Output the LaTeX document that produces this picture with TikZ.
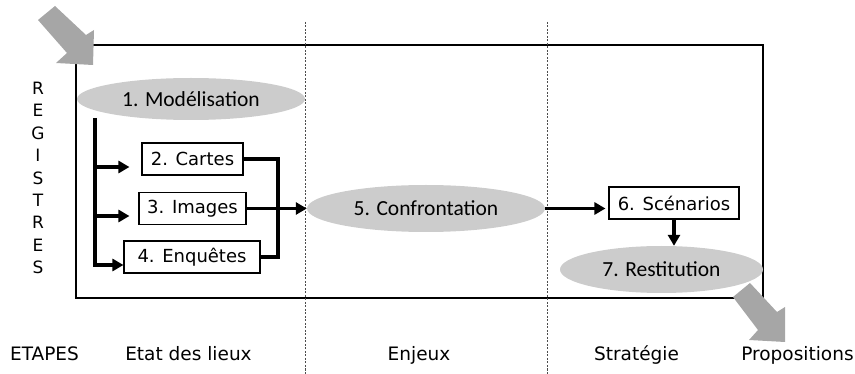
\documentclass[tikz,border=0pt]{standalone}
\usepackage{fontspec}
\setmainfont{Carlito}
\newfontfamily\comicf{DejaVu Sans}
\usetikzlibrary{arrows.meta,shapes.geometric}
\begin{document}
\begin{tikzpicture}[x=1pt,y=-1pt,
  ell/.style={ellipse, fill=gray!40, inner sep=0pt, font=\fontsize{21.5}{24}\selectfont},
  box/.style={draw, line width=1.1pt, rectangle, inner sep=0pt, minimum height=32pt, fill=white, font=\comicf\fontsize{18}{20}\selectfont},
  conn/.style={line width=3.2pt},
  arr/.style={line width=3.2pt, -{Triangle[length=11pt,width=12pt]}},
  sep/.style={dash pattern=on 2pt off 1.5pt, line width=0.7pt, gray!60!black},
  blk/.style={fill=gray!70, draw=none},
  lbl/.style={font=\comicf\fontsize{18.5}{20}\selectfont, anchor=base},
  frame/.style={line width=2.6pt}
]
\useasboundingbox (0,0) rectangle (855,374);
% frame and separators
\draw[frame] (76,45) rectangle (763,298);
\draw[sep] (305,22) -- (305,374);
\draw[sep] (547,22) -- (547,374);
% big grey arrows
\fill[blk] (38,20) -- (55,6) -- (86,35) -- (94,30) -- (93,65) -- (56,63) -- (67,53) -- cycle;
\fill[blk] (733,297) -- (750,283) -- (777,312) -- (785,307) -- (785,342) -- (749,340) -- (758,330) -- cycle;
% nodes
\node[ell, minimum width=228pt, minimum height=42pt] (mod) at (191,99) {1. Modélisation};
\node[box, minimum width=101pt] (cartes) at (192.5,159) {2. Cartes};
\node[box, minimum width=107pt] (img) at (192.5,208.5) {3. Images};
\node[box, minimum width=136pt] (enq) at (192,257) {4. Enquêtes};
\node[ell, minimum width=238pt, minimum height=47pt] (conf) at (426,208.5) {5. Confrontation};
\node[box, minimum width=130pt] (scen) at (674,203) {6. Scénarios};
\node[ell, minimum width=203pt, minimum height=47pt] (rest) at (661.5,269.5) {7. Restitution};
% connectors
\coordinate (t0) at (95,118);
\coordinate (b1) at (95,167);
\coordinate (b2) at (95,216);
\coordinate (b3) at (95,265);
\coordinate (jx) at (278,208.5);
\draw[arr] (t0) -- (b3) -- (b3 -| enq.west);
\draw[arr, shorten >=12pt] (b1) -- (b1 -| cartes.west);
\draw[arr, shorten >=9pt] (b2) -- (b2 -| img.west);
\draw[conn] (cartes.east) -| (jx) |- (enq.east);
\draw[arr] (img.east) -- (conf.west);
\draw[arr, shorten >=3pt] (conf.east) -- (conf.east -| scen.west);
\draw[arr] (scen.south) -- (scen.south |- rest.north);
% labels
\node[font=\comicf\fontsize{17}{22.4}\selectfont, align=center, inner sep=0pt] (reg) at (38,178) {R\\E\\G\\I\\S\\T\\R\\E\\S};
\node[lbl] (etapes) at (44.5,361) {ETAPES};
\node[lbl] (etat) at (188.5,361) {Etat des lieux};
\node[lbl] (enjeux) at (419,361) {Enjeux};
\node[lbl] (strat) at (636.5,361) {Stratégie};
\node[lbl] (prop) at (797.5,361) {Propositions};
\end{tikzpicture}
\end{document}
